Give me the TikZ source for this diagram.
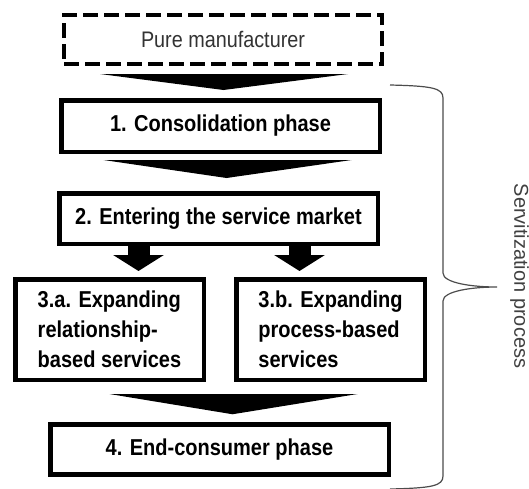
\documentclass[tikz,border=0pt]{standalone}
\usepackage{fontspec}
\setmainfont{Liberation Sans}[FakeStretch=0.88]
\newfontfamily\phasefont{Liberation Sans Bold}
\newfontfamily\sidefont{Liberation Sans}
\newcommand{\narrow}[1]{\scalebox{0.87}[1]{#1}}
\usetikzlibrary{positioning, arrows.meta}

\begin{document}
\begin{tikzpicture}[x=1pt, y=-1pt]
    \useasboundingbox (0,0) rectangle (529,488);

    % Define styles
    \tikzset{
        purebox/.style={draw, dash pattern=on 15pt off 6pt, line width=4pt, inner sep=0pt,
            text=black!80, font=\fontsize{22.5}{27}\selectfont},
        phase/.style={draw, line width=4.5pt, inner sep=0pt, minimum height=51.5pt,
            font=\phasefont\fontsize{23}{30}\selectfont},
        widearrow/.style 2 args={
            to path={([yshift=-#1]\tikztostart) ++(-124pt,0) -- ++(248pt,0)
                -- ([yshift=#2]\tikztotarget) -- cycle \tikztonodes}
        },
        blockarrow/.style={line width=22pt, -{Triangle[length=16pt, width=50pt]}}
    }

    % Define nodes
    \node[purebox, minimum width=318pt, minimum height=49pt] (Pure) at (223,39.5) {Pure manufacturer};
    \node[phase, minimum width=318.5pt] (Consolidation) at (220.5,126) {\narrow{1. Consolidation phase}};
    \node[phase, minimum width=318.5pt, minimum height=50.5pt] (Entering) at (218.5,218.5)
        {\narrow{2. Entering the service market}};
    \node[phase, minimum width=188.5pt, minimum height=100.5pt, align=left] (Relationship) at (109.5,329.5)
        {\narrow{3.a. Expanding}\\\narrow{relationship-}\\\narrow{based services}};
    \node[phase, minimum width=188.5pt, minimum height=100.5pt, align=left] (Process) at (330.5,329.5)
        {\narrow{3.b. Expanding}\\\narrow{process-based}\\\narrow{services}};
    \node[phase, minimum width=338.5pt, minimum height=50pt] (EndConsumer) at (219.5,449.5)
        {\narrow{4. End-consumer phase}};
    \node[rotate=-90, text=black!75, font=\sidefont\fontsize{20}{24}\selectfont] (Servitization) at (519.5,276)
        {Servitization process};

    % Brace end points
    \coordinate (braceTop) at (390,85);
    \coordinate (braceTip) at (497,287);
    \coordinate (braceEnd) at (390,489);

    % Draw phase transitions
    \fill[widearrow={8pt}{8pt}] ([xshift=1pt]Pure.south) to ([xshift=3pt]Consolidation.north);
    \fill[widearrow={6pt}{13pt}] ([xshift=7pt]Consolidation.south) to ([xshift=8pt]Entering.north);
    \fill[widearrow={12pt}{8pt}] ([xshift=14pt]Relationship.south -| EndConsumer.north) to ([xshift=13pt]EndConsumer.north);
    \draw[blockarrow] ([xshift=-80pt]Entering.south) -- ([xshift=-80pt, yshift=6pt]Entering.south |- Relationship.north);
    \draw[blockarrow] ([xshift=81pt]Entering.south) -- ([xshift=81pt, yshift=6pt]Entering.south |- Process.north);

    % Draw brace
    \draw[line width=1.2pt, black!70] (braceTop) .. controls (432,86) and (443,88) .. (443,98) -- (443,273)
        .. controls (443,283) and (472,287) .. (braceTip)
        .. controls (472,287) and (443,291) .. (443,301) -- (443,476)
        .. controls (443,486) and (432,488) .. (braceEnd);
\end{tikzpicture}
\end{document}
